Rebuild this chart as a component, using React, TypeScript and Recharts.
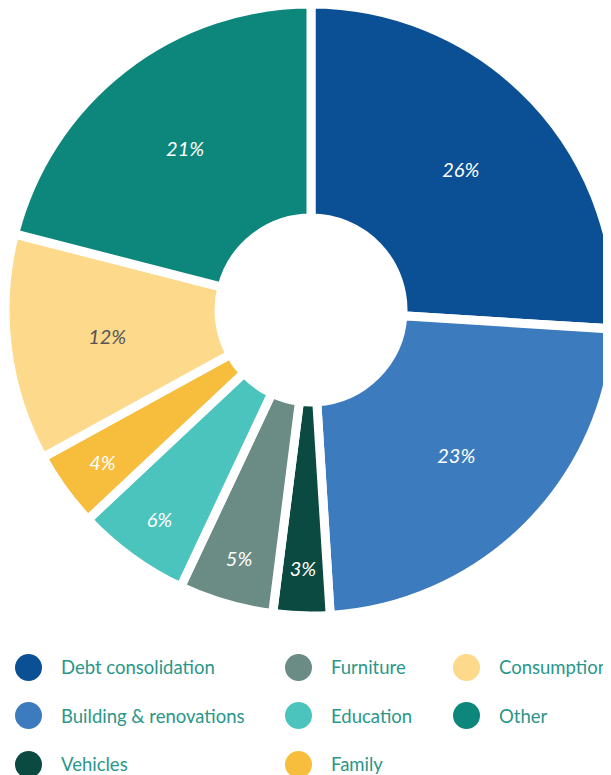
import { PieChart, Pie, Cell, Legend } from "recharts";

// loan purpose shares, clockwise from 12 o'clock
const purposes = [
  "Debt consolidation",
  "Building & renovations",
  "Vehicles",
  "Furniture",
  "Education",
  "Family",
  "Consumption",
  "Other"
];
const shares = [26, 23, 3, 5, 6, 4, 12, 21];
const colors = [
  "#0b4f94",
  "#3d7bbf",
  "#0b4a40",
  "#6b8c85",
  "#4cc4be",
  "#f7bd3c",
  "#fcd98b",
  "#0d877b"
];
const labelColors = ["#fff", "#fff", "#fff", "#fff", "#fff", "#fff", "#555", "#fff"];

// legend is read column by column
const legendColumns = [
  ["Debt consolidation", "Building & renovations", "Vehicles"],
  ["Furniture", "Education", "Family"],
  ["Consumption", "Other"]
];

const data = purposes.map((name, i) => ({ name, value: shares[i] }));

const RADIAN = Math.PI / 180;

const renderLabel = (props: any) => {
  const { cx, cy, midAngle, innerRadius, outerRadius, value, index } = props;
  // thin slices get their label pushed out towards the rim
  const t = value < 10 ? 0.775 : 0.53;
  const r = innerRadius + t * (outerRadius - innerRadius);
  const x = cx + r * Math.cos(-midAngle * RADIAN);
  const y = cy + r * Math.sin(-midAngle * RADIAN);
  return (
    <text
      x={x}
      y={y}
      fill={labelColors[index]}
      textAnchor="middle"
      dominantBaseline="central"
      fontFamily="Lato"
      fontStyle="italic"
      fontSize={20}
    >
      {`${value}%`}
    </text>
  );
};

const colLeft = [7, 277, 445];

const renderLegend = () => (
  <div style={{ position: "relative", width: 603, height: 140 }}>
    {legendColumns.map((col, c) =>
      col.map((name, r) => {
        const i = purposes.indexOf(name);
        return (
          <div
            key={name}
            style={{
              position: "absolute",
              left: colLeft[c],
              top: r * 48.5,
              height: 28,
              display: "flex",
              alignItems: "center",
              whiteSpace: "nowrap"
            }}
          >
            <span
              style={{
                width: 27,
                height: 27,
                borderRadius: "50%",
                background: colors[i],
                display: "inline-block",
                marginRight: 19
              }}
            />
            <span style={{ fontFamily: "Lato", fontSize: 18.5, color: "#2a968a" }}>{name}</span>
          </div>
        );
      })
    )}
  </div>
);

export default function App() {
  return (
    <PieChart width={603} height={767} margin={{ top: 0, right: 0, bottom: 0, left: 0 }}>
      <Pie
        data={data}
        dataKey="value"
        nameKey="name"
        cx={303}
        cy={302}
        innerRadius={92}
        outerRadius={306}
        startAngle={90}
        endAngle={-270}
        stroke="#fff"
        strokeWidth={9}
        label={renderLabel}
        labelLine={false}
        isAnimationActive={false}
      >
        {data.map((d, i) => (
          <Cell key={d.name} fill={colors[i]} />
        ))}
      </Pie>
      <Legend
        content={renderLegend}
        wrapperStyle={{ position: "absolute", top: 645, left: 0, width: 603 }}
      />
    </PieChart>
  );
}
